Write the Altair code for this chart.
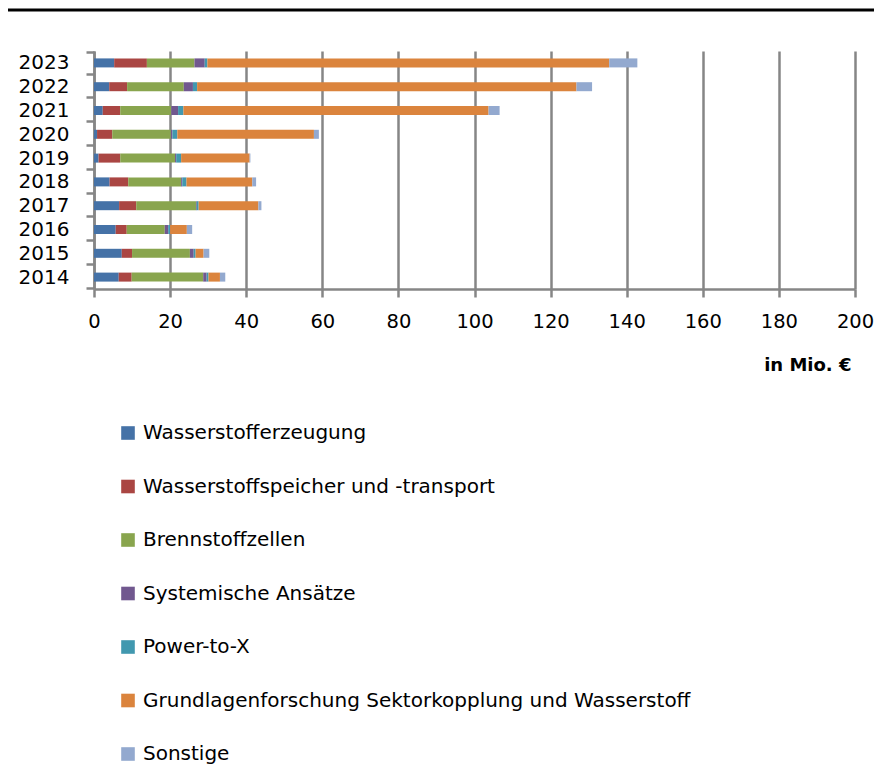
import altair as alt
import pandas as pd

years = ["2014", "2015", "2016", "2017", "2018", "2019", "2020", "2021", "2022", "2023"]
categories = [
    "Wasserstofferzeugung",
    "Wasserstoffspeicher und -transport",
    "Brennstoffzellen",
    "Systemische Ansätze",
    "Power-to-X",
    "Grundlagenforschung Sektorkopplung und Wasserstoff",
    "Sonstige",
]
colors = ["#4572A7", "#AA4643", "#89A54E", "#71588F", "#4198AF", "#DB843D", "#93A9CF"]

erzeugung = [6.5, 7.3, 5.7, 6.6, 4.1, 1.2, 0.8, 2.3, 4.0, 5.3]
speicher = [3.4, 2.7, 2.9, 4.5, 4.9, 5.7, 4.0, 4.6, 4.7, 8.6]
brennstoffzellen = [18.8, 15.2, 10.0, 15.7, 13.9, 14.4, 15.4, 13.4, 14.9, 12.5]
systemisch = [0.9, 1.0, 0.9, 0.2, 0.3, 0.3, 0.4, 1.8, 2.4, 2.7]
power_to_x = [0.5, 0.5, 0.5, 0.5, 1.1, 1.3, 1.3, 1.4, 1.1, 0.7]
grundlagen = [3.0, 2.1, 4.4, 15.7, 17.3, 18.0, 35.9, 80.2, 99.7, 105.6]
sonstige = [1.4, 1.5, 1.4, 0.8, 1.0, 0.2, 1.3, 2.9, 4.1, 7.4]

series = [erzeugung, speicher, brennstoffzellen, systemisch, power_to_x, grundlagen, sonstige]

rows = []
for ci, (cat, vals) in enumerate(zip(categories, series)):
    for y, v in zip(years, vals):
        rows.append({"Jahr": y, "Kategorie": cat, "Wert": v, "idx": ci})
df = pd.DataFrame(rows)

FONT = "DejaVu Sans"

bars = alt.Chart(df).mark_bar(size=9).encode(
    y=alt.Y(
        "Jahr:N",
        sort=list(reversed(years)),
        title=None,
        axis=alt.Axis(
            tickBand="extent",
            tickSize=8,
            tickColor="#868686",
            tickWidth=2.5,
            domainColor="#868686",
            domainWidth=2.5,
            labelFont=FONT,
            labelFontSize=20,
            labelColor="#000000",
            labelPadding=17,
            grid=False,
        ),
    ),
    x=alt.X(
        "Wert:Q",
        stack="zero",
        scale=alt.Scale(domain=[0, 200], nice=False),
        title="in Mio. €",
        axis=alt.Axis(
            values=list(range(0, 201, 20)),
            grid=True,
            gridColor="#868686",
            gridWidth=2.5,
            tickSize=8,
            tickColor="#868686",
            tickWidth=2.5,
            domainColor="#868686",
            domainWidth=2.5,
            labelFont=FONT,
            labelFontSize=19.5,
            labelColor="#000000",
            labelPadding=15,
            labelFlush=False,
            titleFont=FONT,
            titleFontSize=18,
            titleFontWeight="bold",
            titleColor="#000000",
            titleAlign="right",
            titleAnchor="end",
            titleX=757,
            titleY=76,
            titleBaseline="middle",
        ),
    ),
    color=alt.Color(
        "Kategorie:N",
        scale=alt.Scale(domain=categories, range=colors),
        title=None,
        legend=alt.Legend(
            orient="none",
            legendX=24,
            legendY=372,
            direction="vertical",
            symbolType="square",
            symbolSize=185,
            symbolStrokeWidth=0,
            labelFont=FONT,
            labelFontSize=20,
            labelColor="#000000",
            labelOffset=5,
            labelLimit=800,
            rowPadding=33.5,
            padding=0,
        ),
    ),
    order=alt.Order("idx:Q", sort="ascending"),
)

topline = alt.Chart(pd.DataFrame({"a": [0]})).mark_rule(color="#000000", strokeWidth=3).encode(
    x=alt.value(-90), x2=alt.value(800), y=alt.value(-41)
)

chart = alt.layer(bars, topline).properties(
    width=761,
    height=238,
    padding={"left": 86, "top": 43, "right": 19, "bottom": 480},
    autosize=alt.AutoSizeParams(type="none"),
).configure_view(stroke=None)

chart.save("out.html", embed_options={"renderer": "svg", "actions": False})
